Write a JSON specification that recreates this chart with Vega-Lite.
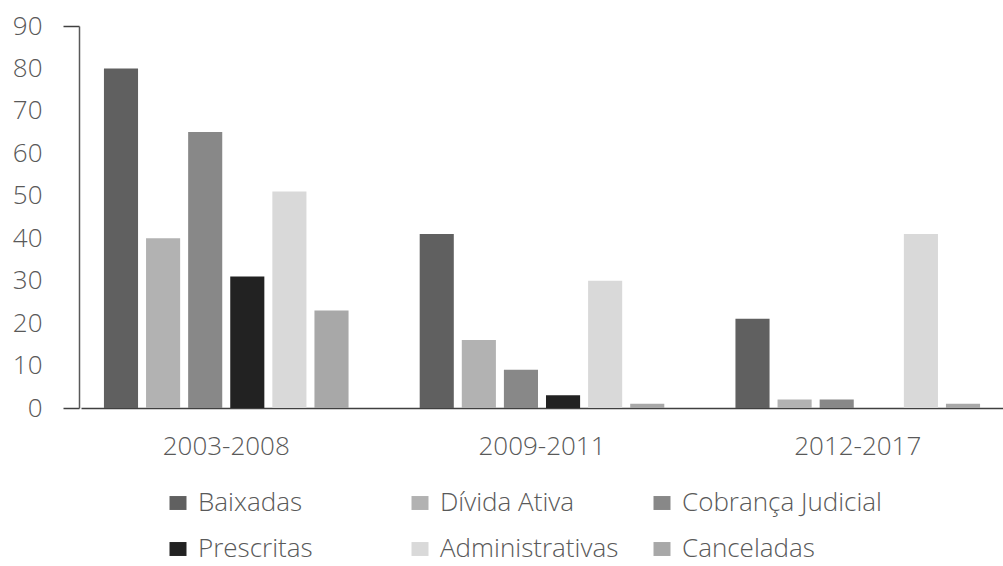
{
  "$schema": "https://vega.github.io/schema/vega-lite/v6.json",
  "autosize": "none",
  "padding": {"left": 81, "top": 26, "right": 0, "bottom": 158},
  "width": 922,
  "height": 382,
  "background": "white",
  "config": {
    "font": "Open Sans",
    "view": {"stroke": null}
  },
  "data": {
    "values": [
      {"periodo": "2003-2008", "categoria": "Baixadas", "valor": 80},
      {"periodo": "2003-2008", "categoria": "Dívida Ativa", "valor": 40},
      {"periodo": "2003-2008", "categoria": "Cobrança Judicial", "valor": 65},
      {"periodo": "2003-2008", "categoria": "Prescritas", "valor": 31},
      {"periodo": "2003-2008", "categoria": "Administrativas", "valor": 51},
      {"periodo": "2003-2008", "categoria": "Canceladas", "valor": 23},
      {"periodo": "2009-2011", "categoria": "Baixadas", "valor": 41},
      {"periodo": "2009-2011", "categoria": "Dívida Ativa", "valor": 16},
      {"periodo": "2009-2011", "categoria": "Cobrança Judicial", "valor": 9},
      {"periodo": "2009-2011", "categoria": "Prescritas", "valor": 3},
      {"periodo": "2009-2011", "categoria": "Administrativas", "valor": 30},
      {"periodo": "2009-2011", "categoria": "Canceladas", "valor": 1},
      {"periodo": "2012-2017", "categoria": "Baixadas", "valor": 21},
      {"periodo": "2012-2017", "categoria": "Dívida Ativa", "valor": 2},
      {"periodo": "2012-2017", "categoria": "Cobrança Judicial", "valor": 2},
      {"periodo": "2012-2017", "categoria": "Prescritas", "valor": 0},
      {"periodo": "2012-2017", "categoria": "Administrativas", "valor": 41},
      {"periodo": "2012-2017", "categoria": "Canceladas", "valor": 1}
    ]
  },
  "mark": {"type": "bar"},
  "encoding": {
    "x": {
      "field": "periodo",
      "type": "nominal",
      "scale": {"paddingInner": 0.2, "paddingOuter": 0.06},
      "axis": {
        "title": null,
        "labelAngle": 0,
        "labelFontSize": 26,
        "labelFontWeight": 300,
        "labelColor": "#595959",
        "labelPadding": 25,
        "ticks": false,
        "tickSize": 0,
        "domainColor": "#404040",
        "domainWidth": 1.5
      }
    },
    "xOffset": {
      "field": "categoria",
      "type": "nominal",
      "sort": ["Baixadas", "Dívida Ativa", "Cobrança Judicial", "Prescritas", "Administrativas", "Canceladas"],
      "scale": {"paddingInner": 0.19, "paddingOuter": 0.095}
    },
    "y": {
      "field": "valor",
      "type": "quantitative",
      "scale": {"domain": [0, 90], "nice": false},
      "axis": {
        "title": null,
        "values": [0, 10, 20, 30, 40, 50, 60, 70, 80, 90],
        "grid": false,
        "ticks": true,
        "tickSize": 16,
        "tickColor": "#404040",
        "tickWidth": 1.5,
        "tickOpacity": {"condition": {"test": "datum.value === 90 || datum.value === 0", "value": 1}, "value": 0},
        "offset": 2,
        "labelFontSize": 26,
        "labelFontWeight": 300,
        "labelColor": "#595959",
        "labelPadding": 21,
        "domainColor": "#595959",
        "domainWidth": 1.5
      }
    },
    "color": {
      "field": "categoria",
      "type": "nominal",
      "sort": ["Baixadas", "Dívida Ativa", "Cobrança Judicial", "Prescritas", "Administrativas", "Canceladas"],
      "scale": {
        "domain": ["Baixadas", "Dívida Ativa", "Cobrança Judicial", "Prescritas", "Administrativas", "Canceladas"],
        "range": ["#606060", "#b2b2b2", "#888888", "#222222", "#d9d9d9", "#a8a8a8"]
      },
      "legend": {
        "title": null,
        "orient": "none",
        "legendX": 84,
        "legendY": 464,
        "direction": "horizontal",
        "columns": 3,
        "gridAlign": "all",
        "columnPadding": 9,
        "rowPadding": 20,
        "symbolType": "M-1,-0.82H1V0.82H-1Z",
        "symbolSize": 289,
        "symbolStrokeWidth": 0,
        "symbolOpacity": 1,
        "labelFontSize": 26,
        "labelFontWeight": 300,
        "labelColor": "#595959",
        "labelOffset": 7,
        "labelLimit": 400
      }
    }
  }
}
